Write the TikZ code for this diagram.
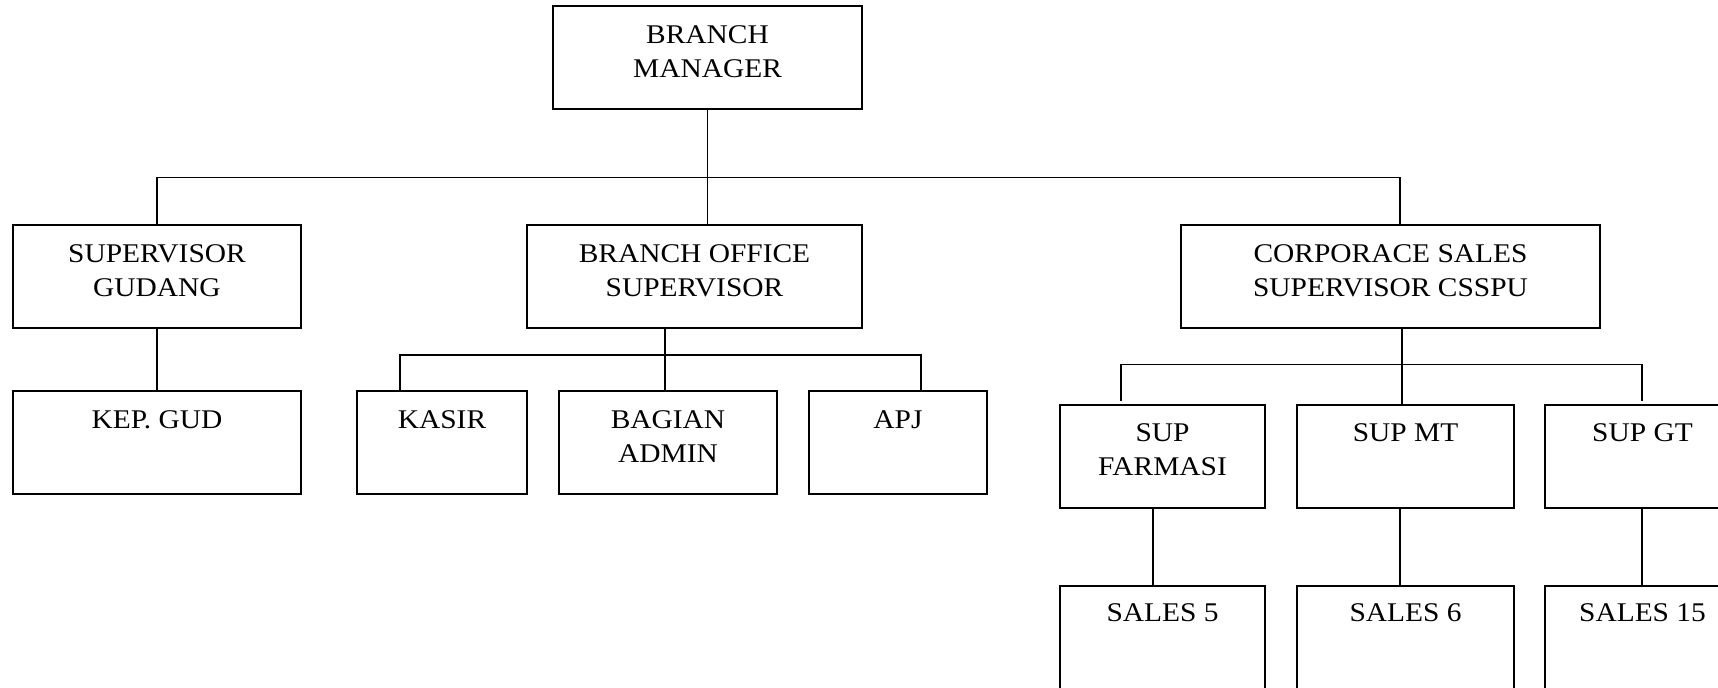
\documentclass[tikz,border=0pt]{standalone}
\usepackage{fontspec}
\setmainfont{Liberation Serif}[FakeStretch=1.09]
\usetikzlibrary{calc}
\begin{document}
\begin{tikzpicture}[x=0.5pt,y=-0.5pt,
  box/.style={draw,line width=1pt,rectangle,inner sep=0pt,minimum height=51.5pt},
  lbl/.style={anchor=north,inner sep=0pt,align=center,font=\fontsize{13.5}{17}\selectfont},
  conn/.style={line width=0.7pt}]
\useasboundingbox (0,0) rectangle (1718,688);
\clip (0,0) rectangle (1718,688);
% boxes
\node[box,minimum width=154.5pt] (bm) at (707.5,58) {};
\node[box,minimum width=144pt] (sg) at (157,276.5) {};
\node[box,minimum width=167.5pt] (bos) at (694.5,276.5) {};
\node[box,minimum width=209.5pt] (css) at (1390.5,276.5) {};
\node[box,minimum width=144pt] (kep) at (157,442.5) {};
\node[box,minimum width=85pt] (kasir) at (442,442.5) {};
\node[box,minimum width=109pt] (ba) at (668,442.5) {};
\node[box,minimum width=89pt] (apj) at (898,442.5) {};
\node[box,minimum width=102.5pt] (supf) at (1162.5,456.5) {};
\node[box,minimum width=108.5pt] (supmt) at (1405.5,456.5) {};
\node[box,minimum width=97.5pt] (supgt) at (1642.5,456.5) {};
\node[box,minimum width=102.5pt] (s5) at (1162.5,637.5) {};
\node[box,minimum width=108.5pt] (s6) at (1405.5,637.5) {};
\node[box,minimum width=97.5pt] (s15) at (1642.5,637.5) {};
% labels
\node[lbl] (tbm) at ([yshift=-10pt]bm.north) {BRANCH\\MANAGER};
\node[lbl] (tsg) at ([yshift=-10pt]sg.north) {SUPERVISOR\\GUDANG};
\node[lbl] (tbos) at ([yshift=-10pt]bos.north) {BRANCH OFFICE\\SUPERVISOR};
\node[lbl] (tcss) at ([yshift=-10pt]css.north) {CORPORACE SALES\\SUPERVISOR CSSPU};
\node[lbl] (tkep) at ([yshift=-10pt]kep.north) {KEP. GUD};
\node[lbl] (tkasir) at ([yshift=-10pt]kasir.north) {KASIR};
\node[lbl] (tba) at ([yshift=-10pt]ba.north) {BAGIAN\\ADMIN};
\node[lbl] (tapj) at ([yshift=-10pt]apj.north) {APJ};
\node[lbl] (tsupf) at ([yshift=-9.5pt]supf.north) {SUP\\FARMASI};
\node[lbl] (tsupmt) at ([yshift=-9.5pt]supmt.north) {SUP MT};
\node[lbl] (tsupgt) at ([yshift=-9.5pt]supgt.north) {SUP GT};
\node[lbl] (ts5) at ([yshift=-9.25pt]s5.north) {SALES 5};
\node[lbl] (ts6) at ([yshift=-9.25pt]s6.north) {SALES 6};
\node[lbl] (ts15) at ([yshift=-9.25pt]s15.north) {SALES 15};
% junction coordinates
\coordinate (j1) at (707.5,177.5);
\coordinate (cssT) at (1400,225);
\coordinate (bosB) at (665,328);
\coordinate (j2) at (665,355);
\coordinate (kasT) at (400,391);
\coordinate (apjT) at (921,391);
\coordinate (cssB) at (1402,328);
\coordinate (j3) at (1402,364.5);
\coordinate (fT) at (1121,401);
\coordinate (gT) at (1642,401);
\coordinate (fB) at (1153,508);
\coordinate (mB) at (1400,508);
\coordinate (gB) at (1642,508);
% connectors
\draw[conn] (bm.south) -- (bm.south |- bos.north);
\draw[conn] (sg.north) |- (j1) -| (cssT);
\draw[conn] (sg.south) -- (kep.north);
\draw[conn] (bosB) -- (bosB |- ba.north);
\draw[conn] (kasT) |- (j2) -| (apjT);
\draw[conn] (cssB) -- (cssB |- supmt.north);
\draw[conn] (fT) |- (j3) -| (gT);
\draw[conn] (fB) -- (fB |- s5.north);
\draw[conn] (mB) -- (mB |- s6.north);
\draw[conn] (gB) -- (gB |- s15.north);
\end{tikzpicture}
\end{document}
